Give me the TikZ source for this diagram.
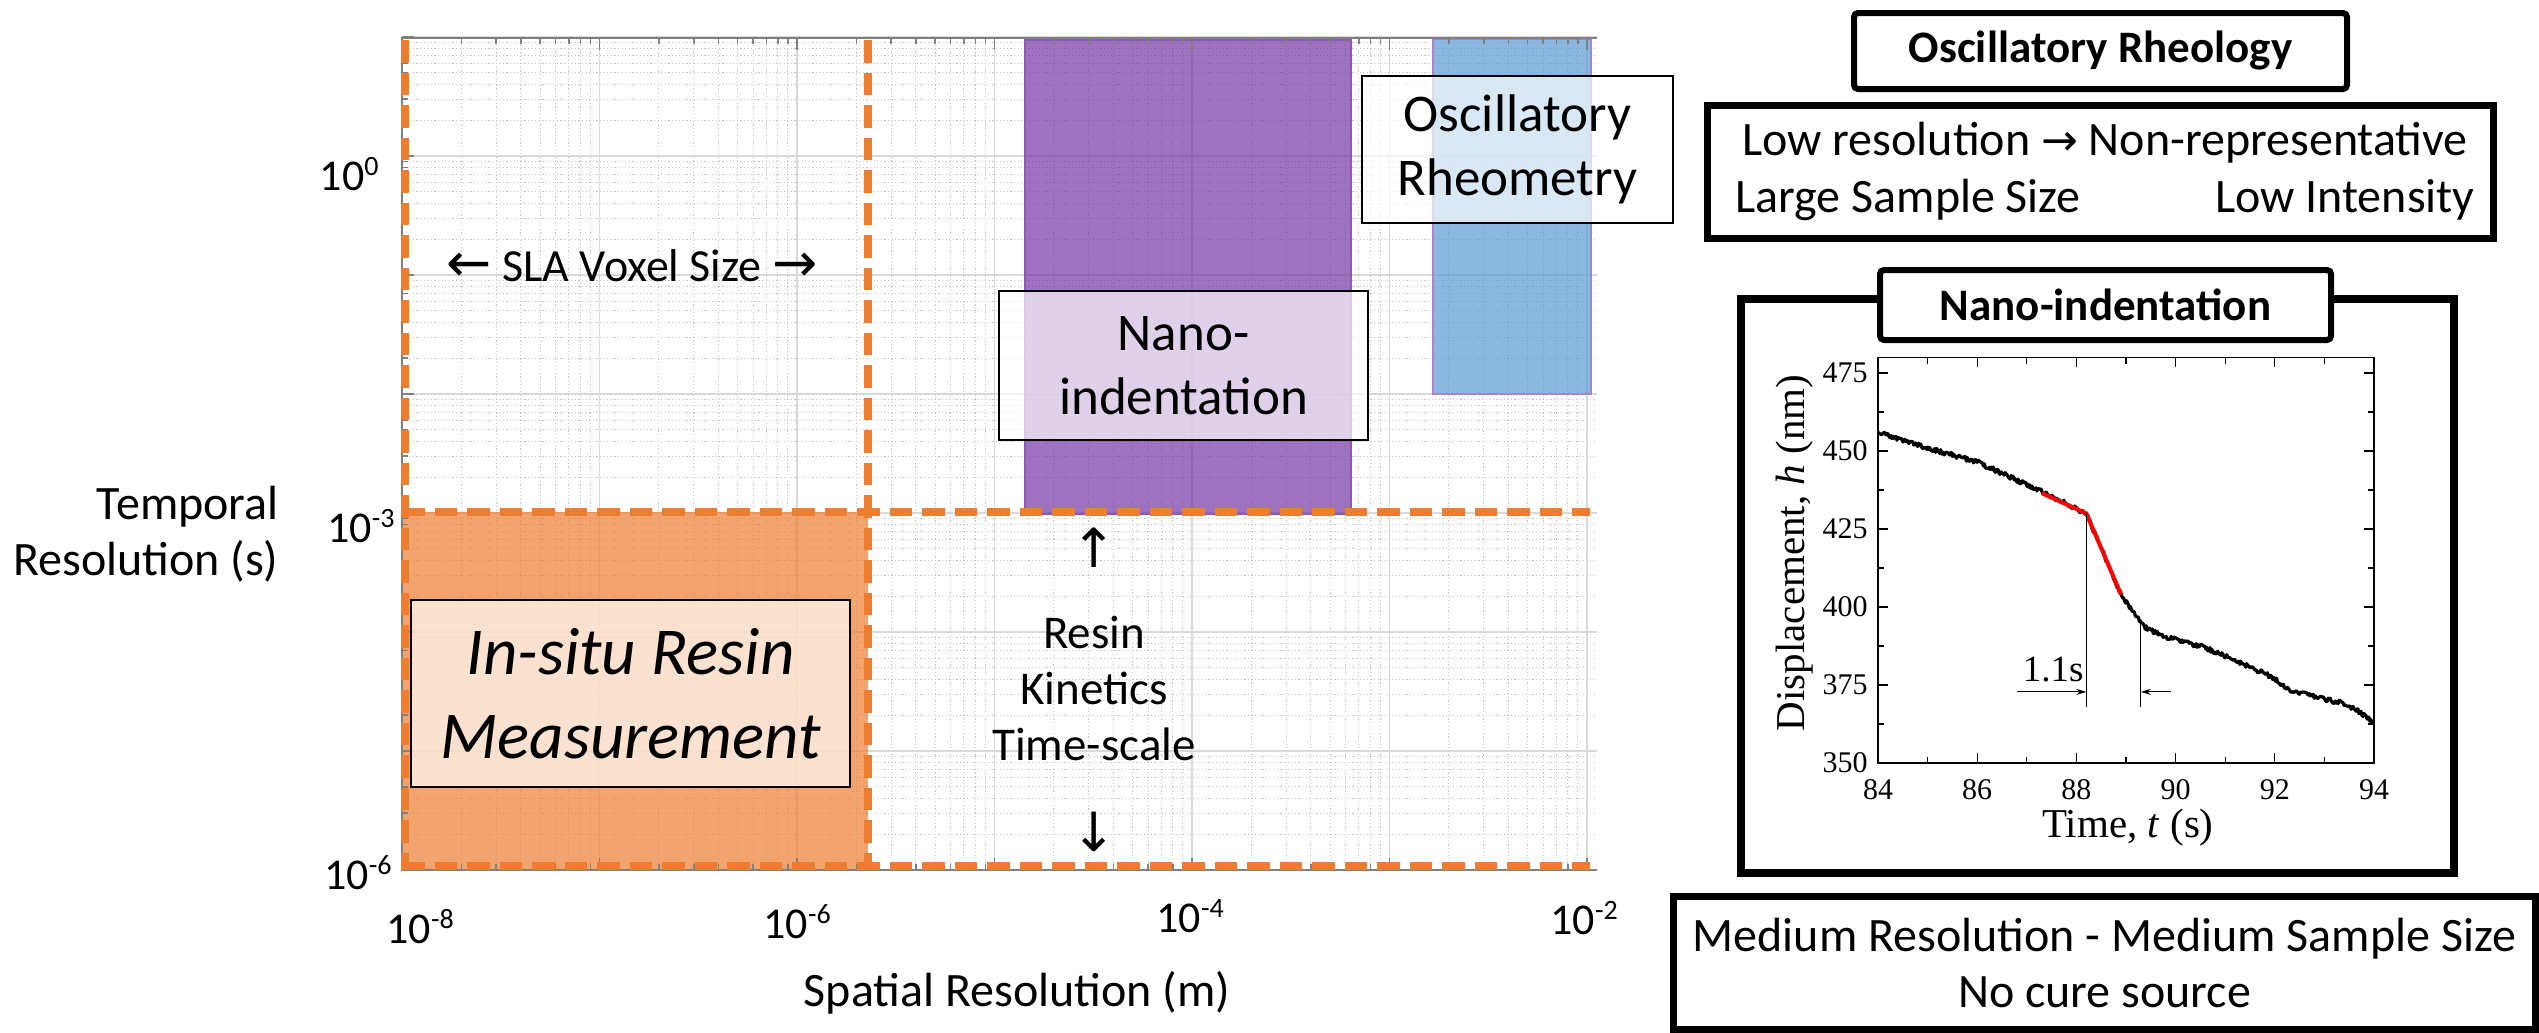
\documentclass[tikz,border=0pt]{standalone}
\usepackage{fontspec}
\setmainfont{Carlito}
\newfontfamily\chartfont{Liberation Serif}
\newfontfamily\arrfont{DejaVu Sans}
\usetikzlibrary{arrows.meta}
\definecolor{ora}{HTML}{ED7D31}
\definecolor{pur}{HTML}{7030A0}
\definecolor{blu}{HTML}{5B9BD5}
\definecolor{gridmaj}{HTML}{D9D9D9}
\definecolor{gridmin}{HTML}{C4C4C4}
\definecolor{axgray}{HTML}{808080}
\newcommand{\fsz}[2]{\fontsize{#1}{#2}\selectfont}
\newcommand{\tenpow}[1]{10\raisebox{7.5pt}{\fontsize{14pt}{14pt}\selectfont #1}}
\newcommand{\bigarr}[1]{{\arrfont\fontsize{27pt}{27pt}\selectfont #1}}
\begin{document}
\begin{tikzpicture}[x=0.5pt,y=-0.5pt,
  gmaj/.style={draw=gridmaj, line width=0.6pt},
  gmin/.style={draw=gridmin, line width=0.5pt, dash pattern=on 0.6pt off 1.2pt},
  axln/.style={draw=axgray, line width=1pt},
  tck/.style={draw=axgray, line width=0.8pt},
  odash/.style={draw=ora, line width=4pt, dash pattern=on 11.25pt off 5pt},
  lbox/.style={draw=black, line width=1.2pt, fill=white, fill opacity=0.68, text opacity=1, inner sep=0pt, align=center},
  ptxt/.style={text=black, font=\fsz{24pt}{29pt}, align=center, inner sep=0pt},
  tlab/.style={font=\fsz{22pt}{22pt}, inner sep=0pt},
  pbox/.style={draw=black, line width=3.5pt, fill=white, inner sep=0pt, align=center, font=\fsz{24pt}{28pt}},
  tbox/.style={draw=black, line width=3pt, fill=white, inner sep=0pt, align=center, rounded corners=2pt, font=\bfseries\fsz{22.5pt}{26pt}},
  ctxt/.style={font=\chartfont\fsz{15pt}{15pt}, inner sep=0pt},
  ]
\useasboundingbox (0,0) rectangle (2539,1033);
\fill[white] (0,0) rectangle (2539,1033);

% ---------- grid ----------
\foreach \d in {0,...,5}{
  \foreach \m in {2,...,9}{
    \pgfmathsetmacro{\xx}{402+197.5*(\d+log10(\m))}
    \draw[gmin] (\xx,38) -- (\xx,870);
  }
}
\foreach \k in {0,...,6}{
  \foreach \m in {2,...,9}{
    \pgfmathsetmacro{\yy}{870-119*(\k+log10(\m))}
    \draw[gmin] (402,\yy) -- (1597,\yy);
  }
}
\foreach \d in {0,...,6}{ \draw[gmaj] ({402+197.5*\d},38) -- ({402+197.5*\d},870); }
\foreach \k in {0,...,7}{ \draw[gmaj] (402,{870-119*\k}) -- (1597,{870-119*\k}); }

% ---------- coloured regions ----------
\fill[ora, fill opacity=0.7] (402,512) rectangle (868,870);
\filldraw[fill=pur, fill opacity=0.68, draw=pur!80, line width=1pt] (1025,40) rectangle (1351,514);
\filldraw[fill=blu, fill opacity=0.7, draw=pur!60, line width=1pt] (1433,39) rectangle (1591,394);

% ---------- axes and ticks ----------
\draw[axln] (1597,38) -- (402,38) -- (402,870) -- (1597,870);
\foreach \d in {0,...,6}{
  \draw[tck] ({402+197.5*\d},870) -- ++(0,-12) ({402+197.5*\d},38) -- ++(0,12);
}
\foreach \d in {0,...,5}{
  \foreach \m in {2,...,9}{
    \pgfmathsetmacro{\xx}{402+197.5*(\d+log10(\m))}
    \draw[tck] (\xx,870) -- ++(0,-6) (\xx,38) -- ++(0,6);
  }
}
\foreach \k in {0,...,7}{ \draw[tck] (402,{870-119*\k}) -- ++(12,0); }
\foreach \k in {0,...,6}{
  \foreach \m in {2,...,9}{
    \pgfmathsetmacro{\yy}{870-119*(\k+log10(\m))}
    \draw[tck] (402,\yy) -- ++(6,0);
  }
}

% ---------- orange dashed limits ----------
\draw[odash] (405,40) -- (405,870);
\draw[odash] (868,40) -- (868,870);
\draw[odash] (402,512) -- (1590,512);
\draw[odash] (402,866) -- (1590,866);

% ---------- tick labels ----------
\node[tlab, anchor=base east] (ty0) at (379,190) {\tenpow{0}};
\node[tlab, anchor=base east] (ty3) at (395,542) {\tenpow{-3}};
\node[tlab, anchor=base east] (ty6) at (392,889) {\tenpow{-6}};
\node[tlab, anchor=base west] (tx8) at (386,943) {\tenpow{-8}};
\node[tlab, anchor=base west] (tx6) at (763,938) {\tenpow{-6}};
\node[tlab, anchor=base west] (tx4) at (1156,932) {\tenpow{-4}};
\node[tlab, anchor=base west] (tx2) at (1550,934) {\tenpow{-2}};

% ---------- axis labels ----------
\node[ptxt, anchor=east, align=right, font=\fsz{24pt}{28pt}] (ylab) at (279,534) {Temporal\\Resolution (s)};
\node[ptxt] (xlab) at (1017,993) {Spatial Resolution (m)};

% ---------- plot annotations ----------
\node[ptxt, font=\fsz{23pt}{28pt}] (sla) at (632,266) {\bigarr{←} SLA Voxel Size \bigarr{→}};
\node[ptxt, font=\fsz{23.5pt}{28pt}] (rk) at (1094,688) {Resin\\Kinetics\\Time-scale};
\node[ptxt] (rkup) at (1094,548) {\bigarr{↑}};
\node[ptxt] (rkdn) at (1094,832) {\bigarr{↓}};

\node[lbox, minimum width=184.5pt, minimum height=74.5pt, font=\fsz{26.5pt}{32pt}] (nanolab) at (1183.5,365.5) {Nano-\\indentation};
\node[lbox, minimum width=155.5pt, minimum height=73.5pt, font=\fsz{26.5pt}{32pt}] (osclab) at (1517.5,149.5) {Oscillatory\\Rheometry};
\node[lbox, minimum width=219.5pt, minimum height=93.5pt, font=\itshape\fsz{33.5pt}{42pt}] (insitu) at (630.5,693.5) {In-situ Resin\\Measurement};

% ---------- right panel ----------
\node[tbox, minimum width=246.5pt, minimum height=38pt] (osct) at (2100.5,51) {Oscillatory Rheology};
\node[pbox, minimum width=393pt, minimum height=66.5pt] (oscb) at (2100.5,172) {};
\node[ptxt, anchor=center] (oscl1) at (2105,143) {Low resolution\ {\arrfont\fsz{22pt}{22pt}→} Non-representative};
\node[ptxt, anchor=west] (oscl2) at (1735,200) {Large Sample Size};
\node[ptxt, anchor=east] (oscl3) at (2475,200) {Low Intensity};

\node[draw=black, line width=4pt, minimum width=356.5pt, minimum height=287pt, inner sep=0pt] (nanoo) at (2097.5,586) {};
\node[tbox, minimum width=225.5pt, minimum height=35pt] (nanot) at (2105.5,305) {Nano-indentation};

\node[pbox, minimum width=431pt, minimum height=66.5pt] (medb) at (2104.5,963) {Medium Resolution - Medium Sample Size\\No cure source};

% ---------- inset chart ----------
\begin{scope}[shift={(1878,763)}, x=24.8pt, y=1.56pt,
  declare function={hf(\u)=(\u<1)?(106-5*\u):(
(\u<2)?(101-4.5*(\u-1)):(
(\u<3.3)?(96.5-7.308*(\u-2)):(
(\u<4.2)?(87-7.778*(\u-3.3)):(
(\u<4.9)?(80-37.14*(\u-4.2)):(
(\u<5.36)?(54-22.61*(\u-4.9)):(
(\u<5.8)?(43.6-7.27*(\u-5.36)):(
(\u<6.55)?(40.4-4.267*(\u-5.8)):(
(\u<7.2)?(37.2-6.46*(\u-6.55)):(
(\u<7.94)?(33-7.3*(\u-7.2)):(
(\u<8.3)?(27.6-11.67*(\u-7.94)):(
(\u<9.35)?(23.4-4*(\u-8.3)):(
(\u<9.7)?(19.2-7.71*(\u-9.35)):(16.5-12.33*(\u-9.7))
))))))))))));}]
  \draw[line width=0.8pt] (0,0) rectangle (10,130);
  \foreach \t in {0,...,10}{
    \pgfmathsetmacro{\tlen}{ifthenelse(mod(\t,2)==0,3.2,2.0)}
    \draw[line width=0.6pt] (\t,0) -- ++(0,\tlen) (\t,130) -- ++(0,-\tlen);
  }
  \foreach \k in {0,...,10}{
    \pgfmathsetmacro{\hh}{12.5*\k}
    \pgfmathsetmacro{\tlen}{ifthenelse(mod(\k,2)==0,0.2,0.13)}
    \draw[line width=0.6pt] (0,\hh) -- ++(\tlen,0) (10,\hh) -- ++(-\tlen,0);
  }
  \foreach \t/\lab in {0/84,2/86,4/88,6/90,8/92,10/94}{
    \node[ctxt] (xt\lab) at (\t,-8.6) {\lab};
  }
  \foreach \k/\lab in {0/350,2/375,4/400,6/425,8/450,10/475}{
    \node[ctxt, anchor=east] (yt\lab) at (-0.2,{12.5*\k}) {\lab};
  }
  \pgfmathsetseed{11}
  \draw[line width=1.6pt, line join=round] plot[domain=0:10, samples=500] (\x,{hf(\x)+0.75*rand});
  \draw[red, line width=2pt] (3.3,86.5) -- (4.2,80) -- (4.9,54);
  \draw[line width=0.5pt] (4.2,80) -- (4.2,18) (5.3,44.5) -- (5.3,18);
  \draw[line width=0.5pt, -{Stealth[length=5pt,width=3pt]}] (2.8,22.8) -- (4.2,22.8);
  \draw[line width=0.5pt, -{Stealth[length=5pt,width=3pt]}] (5.9,22.8) -- (5.3,22.8);
  \node[ctxt, font=\chartfont\fsz{18.5pt}{18.5pt}] (dt) at (3.53,29.8) {1.1s};
  \node[ctxt, font=\chartfont\fsz{20.5pt}{20.5pt}] (tlabel) at (5.04,-20.8) {Time, \textit{t} (s)};
  \node[ctxt, font=\chartfont\fsz{20.5pt}{20.5pt}, rotate=90] (hlabel) at (-1.69,67.3) {Displacement, \textit{h} (nm)};
\end{scope}
\end{tikzpicture}
\end{document}
